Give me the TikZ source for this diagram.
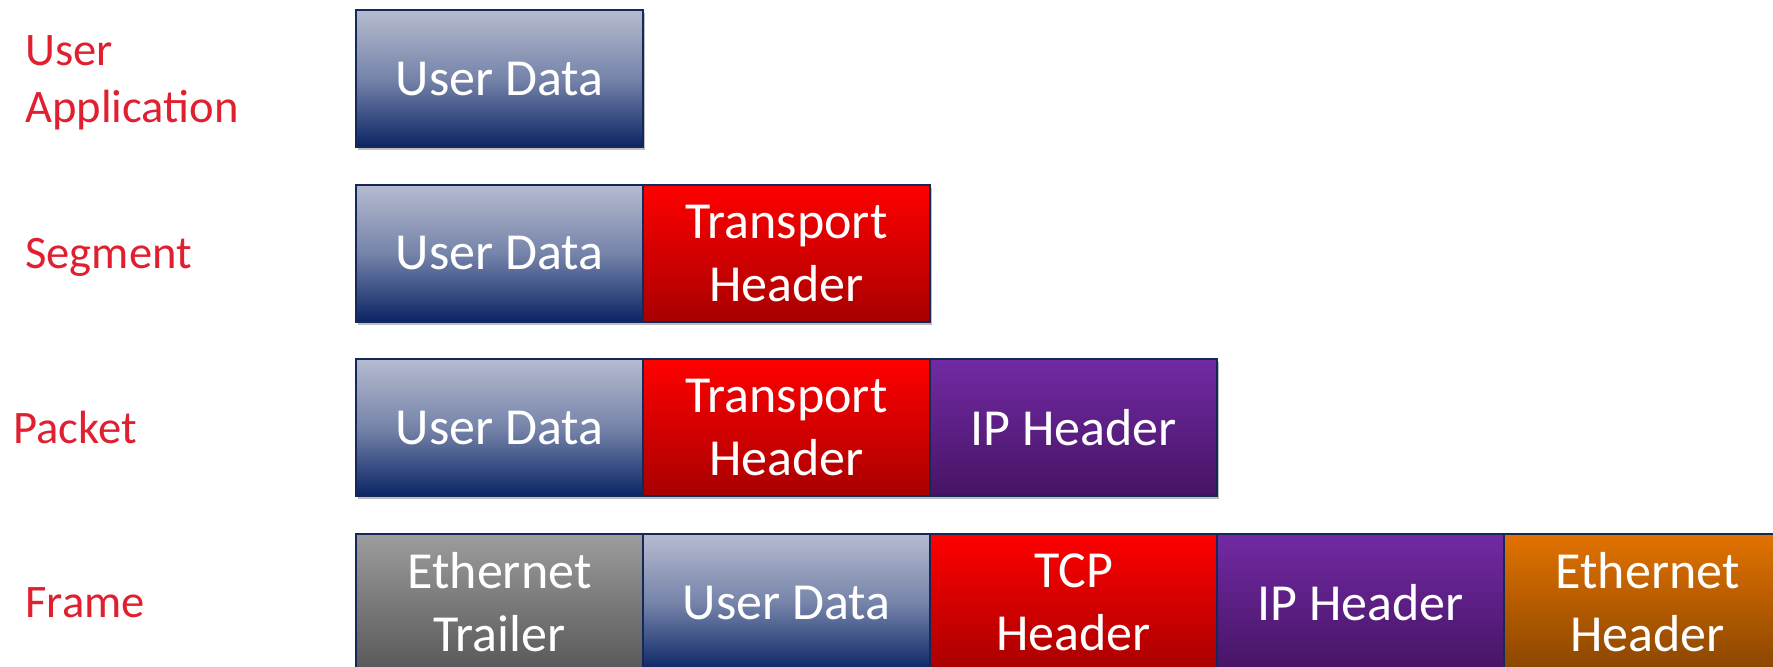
\documentclass[tikz,border=0pt]{standalone}
\usepackage{fontspec}
\setmainfont{Carlito}
\usetikzlibrary{shadows}
\definecolor{lblred}{RGB}{224,32,48}
\definecolor{edge}{RGB}{20,40,90}
\definecolor{udTop}{RGB}{182,187,207}
\definecolor{udMid}{RGB}{118,132,170}
\definecolor{udBot}{RGB}{10,36,100}
\definecolor{thTop}{RGB}{255,0,0}
\definecolor{thBot}{RGB}{168,0,0}
\definecolor{ipTop}{RGB}{114,42,164}
\definecolor{ipBot}{RGB}{70,20,100}
\definecolor{ehTop}{RGB}{226,114,0}
\definecolor{ehBot}{RGB}{138,70,0}
\definecolor{etTop}{RGB}{156,156,156}
\definecolor{etBot}{RGB}{88,88,88}
\tikzset{
  x=0.5pt, y=-0.5pt,
  layerlabel/.style={text=lblred, font=\fontsize{23.3pt}{28.5pt}\selectfont,
    inner sep=0pt, align=left},
  field/.style={draw=edge, line width=1pt, anchor=north west,
    minimum width=143.5pt, minimum height=68.5pt, inner sep=0pt,
    text=white, align=center, font=\fontsize{26pt}{31.5pt}\selectfont,
    drop shadow={shadow xshift=1.2pt, shadow yshift=-1.6pt, opacity=0.25, fill=black}},
  userdata/.style={field, top color=udTop, bottom color=udBot, middle color=udMid},
  transport/.style={field, top color=thTop, bottom color=thBot},
  iphdr/.style={field, top color=ipTop, bottom color=ipBot},
  ethhdr/.style={field, top color=ehTop, bottom color=ehBot},
  ethtrl/.style={field, top color=etTop, bottom color=etBot},
}
\begin{document}
\begin{tikzpicture}
\useasboundingbox (0,0) rectangle (1773,666);

% layer names
\node[layerlabel, anchor=north west] (lapp) at (25,35) {User\\Application};
\node[layerlabel, anchor=base west] (lseg) at (25,268) {Segment};
\node[layerlabel, anchor=base west] (lpkt) at (13,443) {Packet};
\node[layerlabel, anchor=base west] (lfrm) at (25,617) {Frame};

% user application
\node[userdata] (a1) at (355,9) {User Data};

% segment
\node[userdata] (s1) at (355,183.5) {User Data};
\node[transport] (s2) at (642,183.5) {Transport\\Header};

% packet
\node[userdata] (p1) at (355,358) {User Data};
\node[transport] (p2) at (642,358) {Transport\\Header};
\node[iphdr] (p3) at (929,358) {IP Header};

% frame
\node[ethtrl] (f1) at (355,533) {Ethernet\\Trailer};
\node[userdata] (f2) at (642,533) {User Data};
\node[transport] (f3) at (929,533) {TCP\\Header};
\node[iphdr] (f4) at (1216,533) {IP Header};
\node[ethhdr] (f5) at (1503,533) {Ethernet\\Header};
\end{tikzpicture}
\end{document}
